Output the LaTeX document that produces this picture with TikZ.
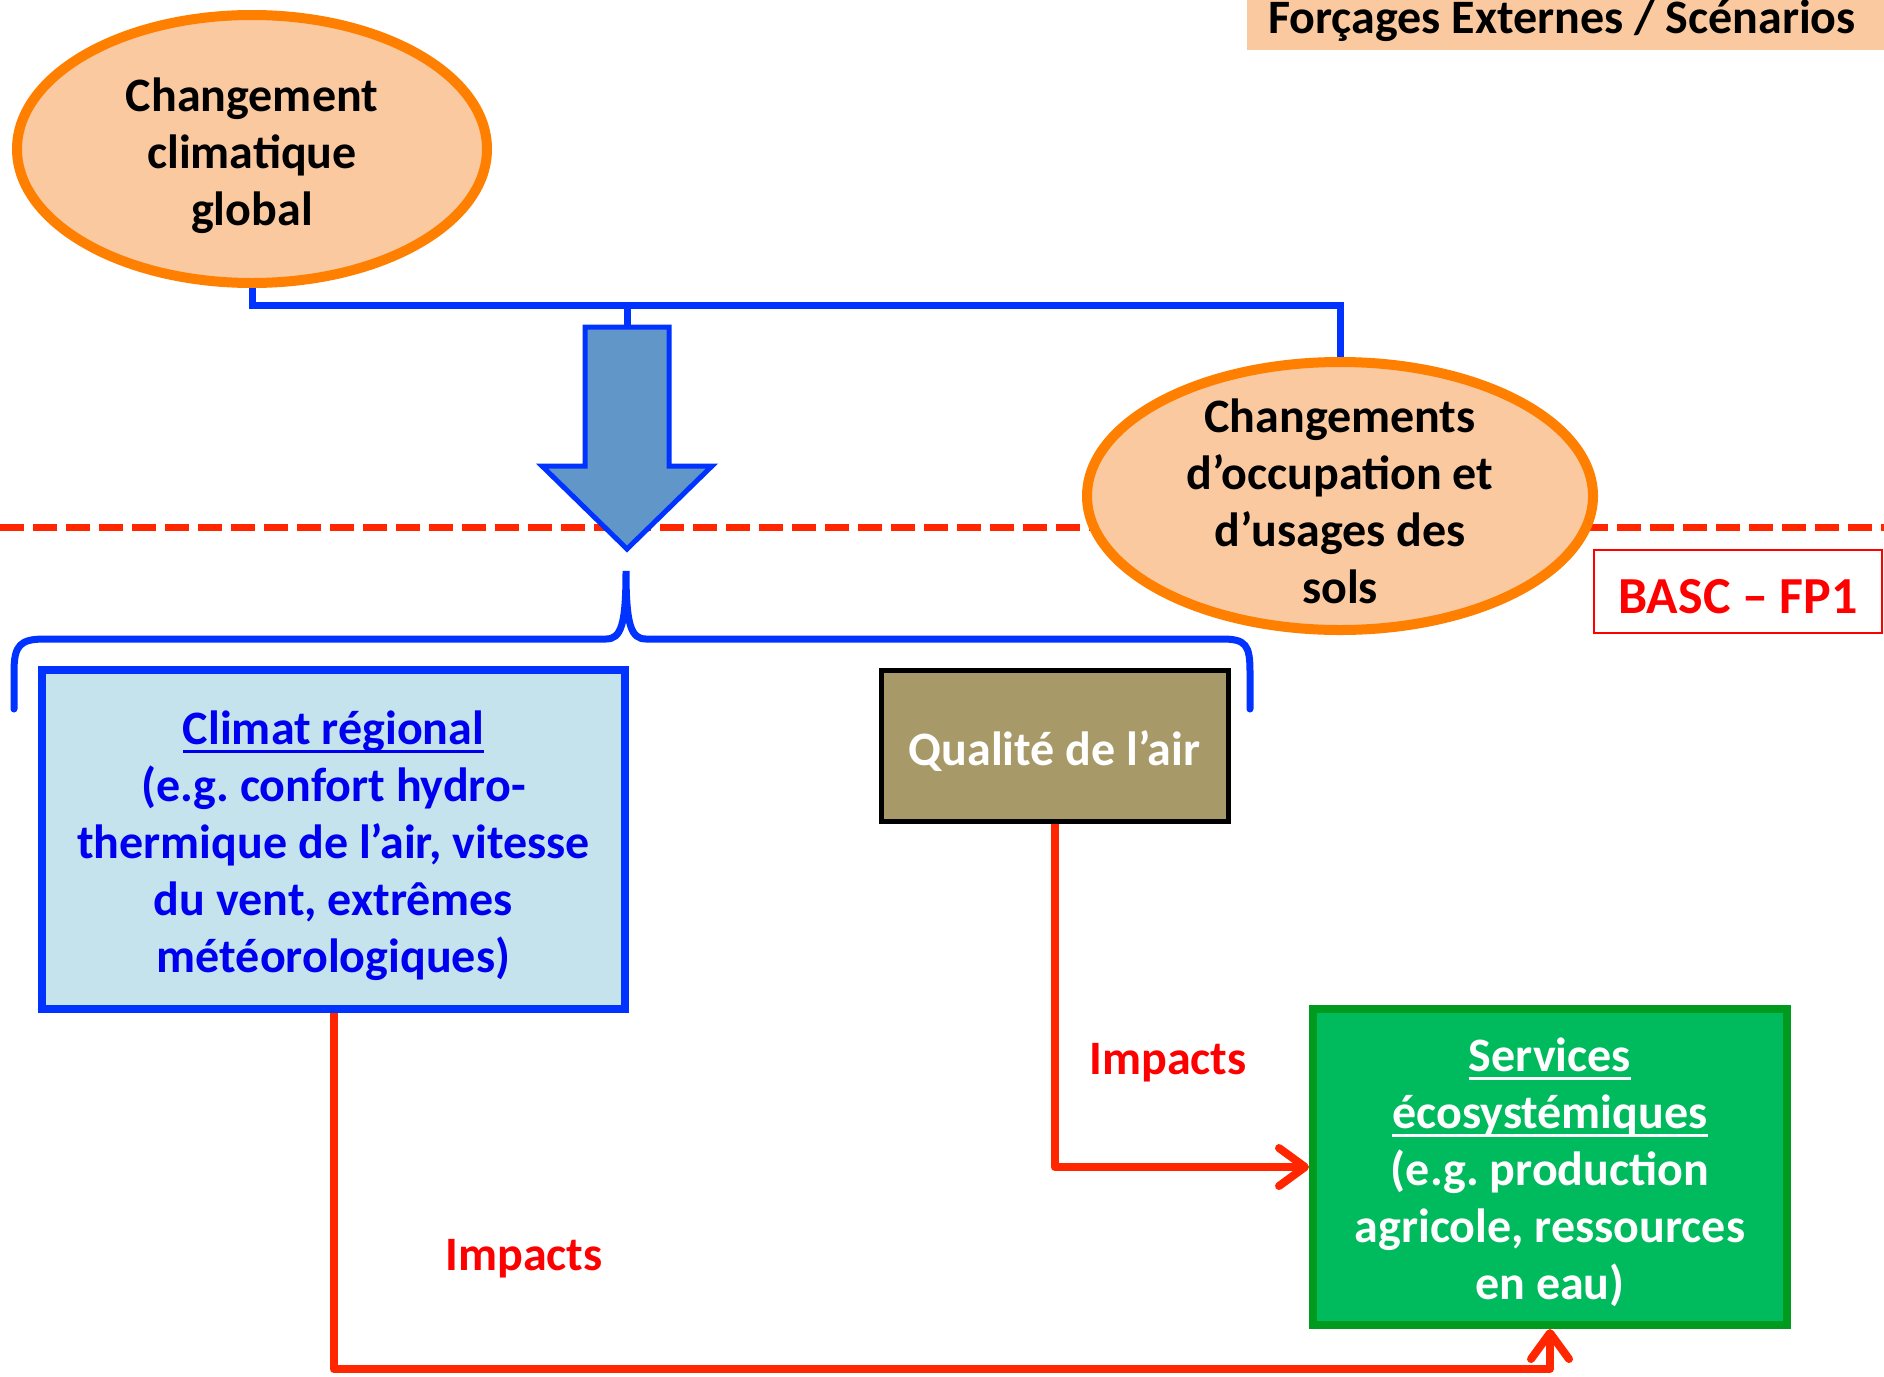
\documentclass[tikz,border=0pt]{standalone}
\usepackage{fontspec}
\setmainfont{Carlito}
\newcommand{\myul}[1]{\leavevmode\setbox0\hbox{#1}\rlap{\rule[-9pt]{\wd0}{3.5pt}}\box0}
\frenchspacing
\usetikzlibrary{arrows.meta,shapes.geometric}
\definecolor{peach}{HTML}{FAC9A0}
\definecolor{orng}{HTML}{FF8000}
\definecolor{bline}{HTML}{0033FF}
\definecolor{btext}{HTML}{0000F0}
\definecolor{afill}{HTML}{6096C8}
\definecolor{lblue}{HTML}{C5E3EC}
\definecolor{olive}{HTML}{A79A68}
\definecolor{gfill}{HTML}{00BA5E}
\definecolor{gline}{HTML}{009A1E}
\definecolor{rline}{HTML}{FF2600}
\definecolor{rtext}{HTML}{FF0000}
\tikzset{
  txt/.style={font=\fontsize{48}{57}\selectfont\bfseries\frenchspacing, align=center, inner sep=0pt},
  oval/.style={ellipse, draw=orng, fill=peach, line width=10pt},
  boxx/.style={rectangle, inner sep=0pt},
  bconn/.style={draw=bline, line width=7pt},
  rconn/.style={draw=rline, line width=8pt, line join=round,
    -{Straight Barb[length=26pt,width=38pt,line width=8pt,round]}},
  rlabel/.style={txt, text=rtext},
}
\begin{document}
\begin{tikzpicture}[x=1pt,y=-1pt]
\useasboundingbox (0,0) rectangle (1884,1376);
% top-right label
\fill[peach] (1247,0) rectangle (1884,50);
\node[txt, text=black, anchor=base] (title) at (1562,33) {Forçages Externes / Scénarios};
% dashed boundary
\draw[rline, line width=7pt, dash pattern=on 24pt off 9pt] (0,527) -- (1884,527);
% ellipses
\node[oval, minimum width=470pt, minimum height=268pt] (e1) at (252,149) {};
\node[txt, text=black] (e1t) at ([yshift=-7pt]e1.center) {Changement\\climatique\\global};
\node[oval, minimum width=506pt, minimum height=268pt] (e2) at (1340,496) {};
\node[txt, text=black] (e2t) at ([yshift=-5pt]e2.center) {Changements\\d’occupation et\\d’usages des\\sols};
% blue connector
\coordinate (j1) at (252,305);
\coordinate (atop) at (627,327);
\coordinate (j2) at (627,305);
\draw[bconn] (e1.south) -- (j1) -| (e2.north);
\draw[bconn] (j2) -- (atop);
% big arrow
\draw[fill=afill, draw=bline, line width=5pt, line join=miter]
  (585,327) -- (669,327) -- (669,466) -- (712,466) -- (627,549) -- (542,466) -- (585,466) -- cycle;
% brace
\draw[bconn, line cap=round]
  (14,709) -- (14,672) .. controls (14,645) and (20,639) .. (45,639) -- (606,639)
  .. controls (621,639) and (626,625) .. (626,571)
  .. controls (626,625) and (631,639) .. (646,639) -- (1222,639)
  .. controls (1246,639) and (1250,645) .. (1250,672) -- (1250,709);
% BASC box
\draw[rtext, line width=2.5pt] (1594,550) rectangle (1882,633);
\node[rlabel, font=\fontsize{52}{60}\selectfont\bfseries] (basc) at (1738,597) {BASC – FP1};
% boxes
\node[boxx, draw=bline, fill=lblue, line width=8pt, minimum width=583pt, minimum height=339pt] (cr) at (333.5,839.5) {};
\node[txt, text=btext] (crt) at ([yshift=-6pt]cr.center)
  {\myul{Climat régional}\\(e.g. confort hydro-\\thermique de l’air, vitesse\\du vent, extrêmes\\météorologiques)};
\node[boxx, draw=black, fill=olive, line width=5pt, minimum width=347pt, minimum height=151pt] (qa) at (1054.5,745.5) {};
\node[txt, text=white] (qat) at ([yshift=-6pt]qa.center) {Qualité de l’air};
\node[boxx, draw=gline, fill=gfill, line width=8pt, minimum width=474pt, minimum height=316pt] (se) at (1550,1167) {};
\node[txt, text=white] (set) at ([yshift=-5pt]se.center)
  {\myul{Services}\\\myul{écosystémiques}\\(e.g. production\\agricole, ressources\\en eau)};
% red impact arrows
\coordinate (c1) at (333.5,1369);
\draw[rconn] (qa.south) |- (se.west);
\draw[rconn] (cr.south) -- (c1) -| (se.south);
\node[rlabel] (imp1) at (1168,1063) {Impacts};
\node[rlabel] (imp2) at (524,1259) {Impacts};
\end{tikzpicture}
\end{document}
